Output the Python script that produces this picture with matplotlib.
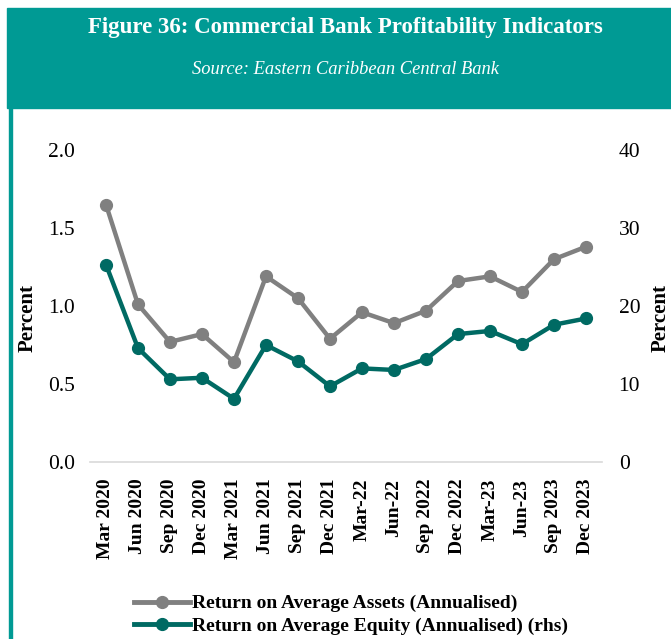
import matplotlib
matplotlib.use("Agg")
import matplotlib.pyplot as plt
from matplotlib.patches import Rectangle
from matplotlib.lines import Line2D

# Quarter labels as printed on the chart
quarters = ["Mar 2020", "Jun 2020", "Sep 2020", "Dec 2020", "Mar 2021", "Jun 2021",
            "Sep 2021", "Dec 2021", "Mar-22", "Jun-22", "Sep 2022", "Dec 2022",
            "Mar-23", "Jun-23", "Sep 2023", "Dec 2023"]

# Return on average assets, percent (left axis)
roaa = [1.65, 1.01, 0.77, 0.82, 0.64, 1.19, 1.05, 0.79, 0.96, 0.89, 0.97, 1.16,
        1.19, 1.09, 1.30, 1.38]

# Return on average equity, percent (right axis)
roae = [25.3, 14.6, 10.6, 10.8, 8.1, 15.0, 12.9, 9.7, 12.0, 11.8, 13.2, 16.4,
        16.8, 15.1, 17.6, 18.4]

teal_header = "#009A94"
grey = "#808080"
dark_teal = "#006A63"
serif = ["Liberation Serif", "DejaVu Serif"]
plt.rcParams["font.family"] = serif

fig = plt.figure(figsize=(6.71, 6.39), dpi=100)

# header band and left border
fig.patches.append(Rectangle((7 / 671, 1 - 108 / 639), 1, 100 / 639,
                             transform=fig.transFigure, color=teal_header, zorder=0))
fig.patches.append(Rectangle((9 / 671, 0), 3 / 671, 1 - 108 / 639,
                             transform=fig.transFigure, color=teal_header, zorder=0))
fig.text(0.515, 1 - 27 / 639, "Figure 36: Commercial Bank Profitability Indicators",
         ha="center", va="center", color="white", fontsize=16.5, fontweight="bold")
fig.text(0.515, 1 - 70 / 639, "Source: Eastern Caribbean Central Bank",
         ha="center", va="center", color="white", fontsize=13.3, style="italic")

ax = fig.add_axes([90 / 671, 177 / 639, 512 / 671, 312 / 639])
ax2 = ax.twinx()

x = list(range(len(quarters)))
ax.plot(x, roaa, color=grey, lw=3.2, marker="o", ms=8.5, zorder=3)
ax2.plot(x, roae, color=dark_teal, lw=3.2, marker="o", ms=8.5, zorder=3)

ax.set_xlim(-0.5, len(quarters) - 0.5)
ax.set_ylim(0, 2.0)
ax2.set_ylim(0, 40)
ax.set_yticks([0, 0.5, 1.0, 1.5, 2.0])
ax.set_yticklabels(["0.0", "0.5", "1.0", "1.5", "2.0"])
ax2.set_yticks([0, 10, 20, 30, 40])

for a in (ax, ax2):
    for s in a.spines.values():
        s.set_visible(False)
ax.spines["bottom"].set_visible(True)
ax.spines["bottom"].set_color("#d9d9d9")
ax.spines["bottom"].set_linewidth(1.2)

ax.tick_params(axis="y", length=0, pad=11, labelsize=15.5)
ax2.tick_params(axis="y", length=0, pad=12, labelsize=15.5)
ax.set_xticks(x)
ax.set_xticklabels(quarters, rotation=90, fontsize=14, fontweight="bold")
ax.tick_params(axis="x", length=0, pad=12)

fig.text(28 / 671, 1 - 318 / 639, "Percent", rotation=90, ha="center", va="center",
         fontsize=15, fontweight="bold")
fig.text(661 / 671, 1 - 318 / 639, "Percent", rotation=90, ha="center", va="center",
         fontsize=15, fontweight="bold")

handles = [Line2D([], [], color=grey, lw=3.5, marker="o", ms=8.5),
           Line2D([], [], color=dark_teal, lw=3.5, marker="o", ms=8.5)]
labels = ["Return on Average Assets (Annualised)",
          "Return on Average Equity (Annualised) (rhs)"]
fig.legend(handles, labels, loc="upper left", bbox_to_anchor=(124 / 671, 1 - 585 / 639),
           frameon=False, prop={"family": serif, "weight": "bold", "size": 14},
           handlelength=2.9, handletextpad=0.1, labelspacing=0.25, borderpad=0)

fig.savefig("out.png", dpi=100)
